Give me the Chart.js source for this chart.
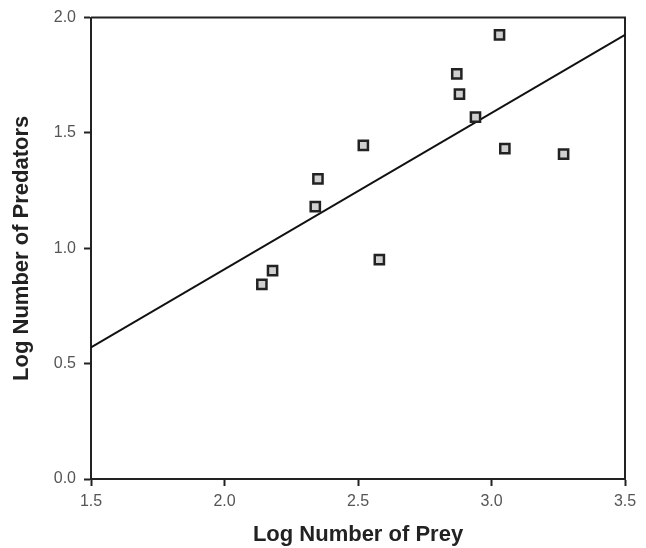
<!DOCTYPE html>
<html>
<head>
<meta charset="utf-8">
<script src="https://cdn.jsdelivr.net/npm/chart.js@4/dist/chart.umd.min.js"></script>
<style>
  html, body { margin: 0; padding: 0; background: #fff; }
  #wrap { width: 646px; height: 548px; }
</style>
</head>
<body>
<div id="wrap"><canvas id="preyChart"></canvas></div>
<script>
// log prey vs log predators
const preyLog = [3.03, 2.87, 2.88, 2.94, 2.52, 3.05, 3.27, 2.35, 2.34, 2.58, 2.18, 2.14];
const predatorLog = [1.925, 1.756, 1.668, 1.569, 1.446, 1.432, 1.408, 1.301, 1.181, 0.951, 0.903, 0.844];

// fitted line end points
const fitX = [1.5, 3.5];
const fitY = [0.57, 1.925];

const xTicks = [1.5, 2.0, 2.5, 3.0, 3.5];
const yTicks = [0.0, 0.5, 1.0, 1.5, 2.0];

const pointData = preyLog.map((x, i) => ({ x: x, y: predatorLog[i] }));
const lineData = fitX.map((x, i) => ({ x: x, y: fitY[i] }));

// frame on top and right like the original plot box
const boxPlugin = {
    id: 'boxPlugin',
    beforeDatasetsDraw(chart) {
        const a = chart.chartArea;
        const ctx = chart.ctx;
        ctx.save();
        ctx.strokeStyle = '#222';
        ctx.lineWidth = 2;
        ctx.beginPath();
        ctx.moveTo(a.left, a.top);
        ctx.lineTo(a.right, a.top);
        ctx.lineTo(a.right, a.bottom);
        ctx.stroke();
        ctx.restore();
    }
};

const tickFont = { family: 'Liberation Sans, Arial, sans-serif', size: 16 };
const titleFont = { family: 'Liberation Sans, Arial, sans-serif', size: 22, weight: 'bold' };

new Chart(document.getElementById('preyChart').getContext('2d'), {
    data: {
        datasets: [
            {
                type: 'line',
                data: lineData,
                borderColor: '#111',
                borderWidth: 2,
                pointRadius: 0,
                fill: false,
                order: 2
            },
            {
                type: 'scatter',
                data: pointData,
                pointStyle: 'rect',
                pointRadius: 6.5,
                borderWidth: 2.5,
                borderColor: '#222',
                backgroundColor: '#d0d0d0',
                order: 1
            }
        ]
    },
    options: {
        responsive: true,
        maintainAspectRatio: false,
        animation: false,
        layout: { padding: { left: 0, right: 21, top: 16, bottom: 0 } },
        plugins: {
            legend: { display: false },
            tooltip: { enabled: false }
        },
        scales: {
            x: {
                type: 'linear',
                min: 1.5,
                max: 3.5,
                afterFit: (s) => { s.height = 69; },
                afterBuildTicks: (s) => { s.ticks = xTicks.map(v => ({ value: v })); },
                ticks: {
                    font: tickFont,
                    color: '#555',
                    padding: 6,
                    callback: (v) => Number(v).toFixed(1)
                },
                grid: {
                    drawOnChartArea: false,
                    drawTicks: true,
                    tickLength: 7,
                    tickWidth: 2,
                    tickColor: '#222'
                },
                border: { display: true, color: '#222', width: 2 },
                title: {
                    display: true,
                    text: 'Log Number of Prey',
                    font: titleFont,
                    color: '#222',
                    padding: { top: 0, bottom: 0 }
                }
            },
            y: {
                type: 'linear',
                min: 0,
                max: 2,
                afterFit: (s) => { s.width = 91; },
                afterBuildTicks: (s) => { s.ticks = yTicks.map(v => ({ value: v })); },
                ticks: {
                    font: tickFont,
                    color: '#555',
                    padding: 8,
                    callback: (v) => Number(v).toFixed(1)
                },
                grid: {
                    drawOnChartArea: false,
                    drawTicks: true,
                    tickLength: 7,
                    tickWidth: 2,
                    tickColor: '#222'
                },
                border: { display: true, color: '#222', width: 2 },
                title: {
                    display: true,
                    text: 'Log Number of Predators',
                    font: titleFont,
                    color: '#222',
                    padding: { top: 9, bottom: 0 }
                }
            }
        }
    },
    plugins: [boxPlugin]
});
</script>
</body>
</html>
